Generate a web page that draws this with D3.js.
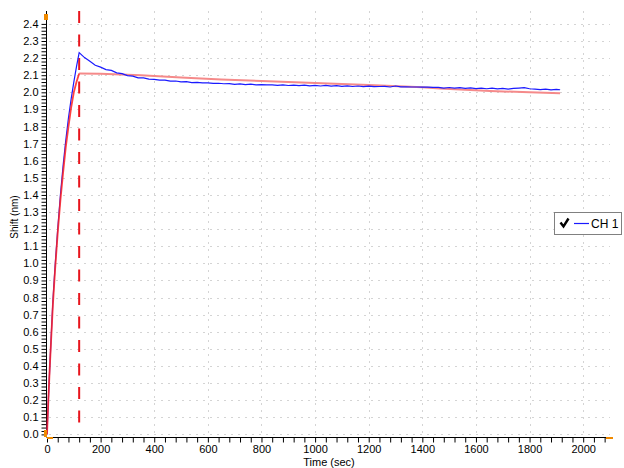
<!DOCTYPE html>
<html>
<head>
<meta charset="utf-8">
<script src="https://cdn.jsdelivr.net/npm/d3@7"></script>
<style>
  body { margin: 0; background: #fff; }
  text { font-family: "Liberation Sans", Arial, sans-serif; }
</style>
</head>
<body>
<svg id="chart" width="624" height="468"></svg>
<script>
// values
var yTicks = [0.0, 0.1, 0.2, 0.3, 0.4, 0.5, 0.6, 0.7, 0.8, 0.9, 1.0, 1.1, 1.2,
  1.3, 1.4, 1.5, 1.6, 1.7, 1.8, 1.9, 2.0, 2.1, 2.2, 2.3, 2.4];
var xTicks = [0, 200, 400, 600, 800, 1000, 1200, 1400, 1600, 1800, 2000];
var injectTime = 120;

// measured channel (association then dissociation)
var chTime = [0, 5, 10, 15, 22, 30, 40, 50, 60, 70, 80, 90, 100, 110,
  120, 140, 160, 180, 200, 220, 240, 260, 280, 300, 320, 340, 360, 380, 400,
  420, 440, 460, 480, 500, 520, 540, 560, 580, 600, 620, 640, 660, 680, 700,
  720, 740, 760, 780, 800, 820, 840, 860, 880, 900, 920, 940, 960, 980, 1000,
  1020, 1040, 1060, 1080, 1100, 1120, 1140, 1160, 1180, 1200, 1220, 1240, 1260,
  1280, 1300, 1320, 1340, 1360, 1380, 1400, 1420, 1440, 1460, 1480, 1500, 1520,
  1540, 1560, 1580, 1600, 1620, 1640, 1660, 1680, 1700, 1720, 1740, 1760, 1780,
  1800, 1820, 1840, 1860, 1880, 1900, 1914];
var chShift = [0, 0.2, 0.38, 0.55, 0.78, 0.98, 1.2, 1.4, 1.57, 1.72, 1.85, 1.96, 2.06, 2.15,
  2.232, 2.203, 2.181, 2.158, 2.147, 2.133, 2.128, 2.114, 2.109, 2.098, 2.095, 2.085, 2.084, 2.077, 2.076,
  2.071, 2.071, 2.065, 2.066, 2.061, 2.062, 2.057, 2.058, 2.055, 2.055, 2.052, 2.053, 2.050, 2.051, 2.047,
  2.049, 2.045, 2.048, 2.044, 2.045, 2.043, 2.044, 2.041, 2.044, 2.040, 2.042, 2.039, 2.042, 2.038, 2.040,
  2.037, 2.040, 2.036, 2.039, 2.035, 2.038, 2.034, 2.037, 2.033, 2.036, 2.033, 2.034, 2.035,
  2.031, 2.037, 2.032, 2.032, 2.031, 2.031, 2.030, 2.030, 2.029, 2.029, 2.025, 2.028, 2.024,
  2.027, 2.023, 2.026, 2.022, 2.025, 2.021, 2.024, 2.020, 2.023, 2.019, 2.023, 2.025, 2.027,
  2.021, 2.019, 2.016, 2.019, 2.014, 2.017, 2.015];

// fitted curve, association part
var fitAssocTime = [0, 5, 10, 15, 22, 30, 40, 50, 60, 70, 80, 90, 100, 110, 120];
var fitAssocShift = [0, 0.2, 0.38, 0.54, 0.76, 0.96, 1.18, 1.37, 1.53, 1.68, 1.8, 1.91, 2.0, 2.06, 2.11];
// fitted curve, dissociation part
var fitDissTime = [120, 200, 350, 500, 650, 800, 1000, 1200, 1400, 1466, 1653, 1800, 1914];
var fitDissShift = [2.11, 2.108, 2.10, 2.087, 2.075, 2.066, 2.055, 2.043, 2.03, 2.022, 2.008, 2.0, 1.994];

var svg = d3.select("#chart");

var x = d3.scaleLinear().domain([0, 2100]).range([47, 610]);
var y = d3.scaleLinear().domain([0, 2.4]).range([434.4, 23.9]);
var yBottom = 437.5, yTop = 11;

// gridlines
var grid = svg.append("g").attr("class", "grid");
grid.selectAll(".hgrid")
  .data(yTicks)
  .join("line")
  .attr("class", "hgrid")
  .attr("x1", x(0) + 2).attr("x2", x(2100))
  .attr("y1", (d) => Math.round(y(d)) + 0.5)
  .attr("y2", (d) => Math.round(y(d)) + 0.5)
  .attr("stroke", "#d4d4d4")
  .attr("stroke-dasharray", "2,5");
grid.selectAll(".vgrid")
  .data(xTicks.slice(1))
  .join("line")
  .attr("class", "vgrid")
  .attr("x1", (d) => Math.round(x(d)) + 0.5)
  .attr("x2", (d) => Math.round(x(d)) + 0.5)
  .attr("y1", yTop).attr("y2", yBottom - 1)
  .attr("stroke", "#d4d4d4")
  .attr("stroke-dasharray", "2,5");

// axes
var yAxis = d3.axisLeft(y)
  .tickValues(d3.range(0, 121).map((i) => i * 0.02).filter((v) => v <= 2.46))
  .tickSize(5)
  .tickFormat((d) => {
    var r = Math.round(d * 10) / 10;
    return Math.abs(r - d) < 1e-6 ? d3.format(".1f")(d) : "";
  });
var gy = svg.append("g").attr("transform", "translate(46.5,0)").call(yAxis);
gy.select(".domain").attr("d", "M0," + yTop + "V" + yBottom);
gy.selectAll(".tick line").attr("stroke", "#000");
gy.selectAll(".tick text").attr("x", -8).attr("font-size", "11px").attr("fill", "#000");

var xAxis = d3.axisBottom(x)
  .tickValues(d3.range(0, 2101, 40))
  .tickSize(5)
  .tickFormat((d) => (d % 200 === 0 ? d : ""));
var gx = svg.append("g").attr("transform", "translate(0," + yBottom + ")").call(xAxis);
gx.select(".domain").attr("d", "M" + x(0) + ",0H" + x(2100));
gx.selectAll(".tick line").attr("stroke", "#000");
gx.selectAll(".tick text").attr("y", 8).attr("font-size", "11px").attr("fill", "#000");
svg.selectAll(".domain").attr("stroke", "#000");

// axis titles
svg.append("text")
  .attr("transform", "translate(18,217) rotate(-90)")
  .attr("text-anchor", "middle")
  .attr("font-size", "10px")
  .text("Shift (nm)");
svg.append("text")
  .attr("x", 329).attr("y", 466)
  .attr("text-anchor", "middle")
  .attr("font-size", "11px")
  .text("Time (sec)");

// injection marker
svg.append("line")
  .attr("x1", x(injectTime)).attr("x2", x(injectTime))
  .attr("y1", yTop).attr("y2", 423)
  .attr("stroke", "#e8141c")
  .attr("stroke-width", 2)
  .attr("stroke-dasharray", "12,11.5");

var line = d3.line().x((d) => x(d[0])).y((d) => y(d[1]));

svg.append("path")
  .datum(fitDissTime.map((t, i) => [t, fitDissShift[i]]))
  .attr("d", line)
  .attr("fill", "none")
  .attr("stroke", "#f58a8a")
  .attr("stroke-width", 2);

svg.append("path")
  .datum(chTime.map((t, i) => [t, chShift[i]]))
  .attr("d", line)
  .attr("fill", "none")
  .attr("stroke", "#1a1aff")
  .attr("stroke-width", 1.2);

svg.append("path")
  .datum(fitAssocTime.map((t, i) => [t, fitAssocShift[i]]))
  .attr("d", line)
  .attr("fill", "none")
  .attr("stroke", "#ff2020")
  .attr("stroke-width", 1.8)
  .attr("stroke-opacity", 0.85);

// orange handles
var orange = "#f08a00";
svg.append("rect").attr("x", 44).attr("y", 14).attr("width", 4).attr("height", 6).attr("fill", orange);
svg.append("rect").attr("x", 44).attr("y", 430).attr("width", 3).attr("height", 7).attr("fill", orange);
svg.append("rect").attr("x", 47).attr("y", 437).attr("width", 6).attr("height", 2).attr("fill", orange);
svg.append("rect").attr("x", 606).attr("y", 437).attr("width", 7).attr("height", 2).attr("fill", orange);

// legend
var lg = svg.append("g").attr("transform", "translate(554.5,212.5)");
lg.append("rect")
  .attr("width", 67).attr("height", 22)
  .attr("fill", "#fff")
  .attr("stroke", "#808080");
lg.append("path")
  .attr("d", "M6,10 L9,14 L14,6")
  .attr("fill", "none")
  .attr("stroke", "#000")
  .attr("stroke-width", 2.4);
lg.append("line")
  .attr("x1", 19.5).attr("x2", 34.5).attr("y1", 11).attr("y2", 11)
  .attr("stroke", "#1a1aff").attr("stroke-width", 1.2);
lg.append("text")
  .attr("x", 36.5).attr("y", 15.5)
  .attr("font-size", "12px")
  .text("CH 1");
</script>
</body>
</html>
